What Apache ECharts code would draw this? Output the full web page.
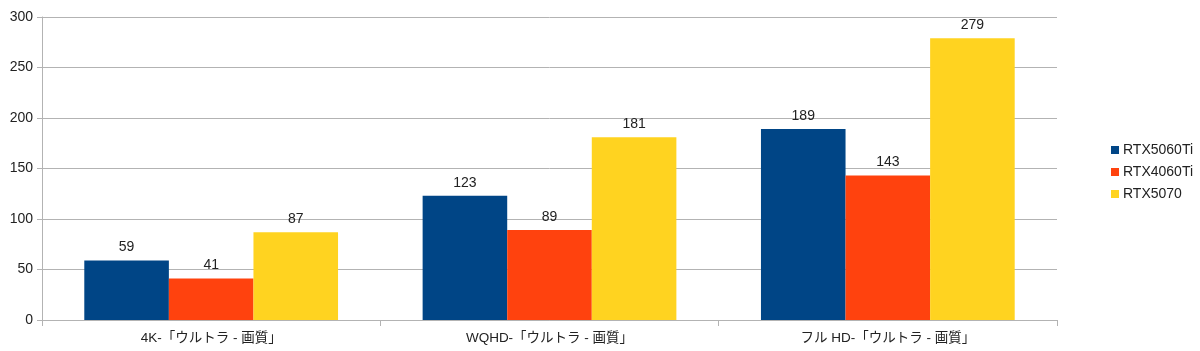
<!DOCTYPE html>
<html><head><meta charset="utf-8">
<script src="https://cdn.jsdelivr.net/npm/echarts@6/dist/echarts.min.js"></script>
<style>html,body{margin:0;padding:0;background:#fff}#c{width:1200px;height:351px}</style>
</head><body><div id="c"></div>
<script>
const categories = ['4K-「ウルトラ - 画質」', 'WQHD-「ウルトラ - 画質」', 'フル HD-「ウルトラ - 画質」'];
const seriesNames = ['RTX5060Ti', 'RTX4060Ti', 'RTX5070'];
const rtx5060ti = [59, 123, 189];
const rtx4060ti = [41, 89, 143];
const rtx5070 = [87, 181, 279];
const colors = ['#004586', '#ff420e', '#ffd320'];
const font = '"Liberation Sans", Arial, "Noto Sans CJK JP", sans-serif';
const values = [rtx5060ti, rtx4060ti, rtx5070];
const chart = echarts.init(document.getElementById('c'));
chart.setOption({
  animation: false,
  textStyle: { fontFamily: font },
  grid: { left: 42, right: 143, top: 17, bottom: 31, containLabel: false },
  legend: {
    orient: 'vertical', left: 1106, top: 138, itemWidth: 8, itemHeight: 8, itemGap: 8,
    icon: 'rect',
    textStyle: { fontFamily: font, fontSize: 14, color: '#222', padding: [0,0,0,-1] },
    data: seriesNames
  },
  xAxis: {
    type: 'category', data: categories,
    axisLine: { lineStyle: { color: '#b3b3b3' } },
    axisTick: { show: true, length: 6, lineStyle: { color: '#b3b3b3' } },
    axisLabel: { fontFamily: font, fontSize: 13.5, color: '#222', margin: 12 }
  },
  yAxis: {
    type: 'value', min: 0, max: 300, interval: 50,
    axisLine: { show: true, lineStyle: { color: '#b3b3b3' } },
    axisTick: { show: true, length: 5, lineStyle: { color: '#b3b3b3' } },
    splitLine: { lineStyle: { color: '#b3b3b3' } },
    axisLabel: { fontFamily: font, fontSize: 14, color: '#222', margin: 9 }
  },
  series: seriesNames.map((n, i) => ({
    name: n, type: 'bar', data: values[i], barGap: '0%', barCategoryGap: '25%',
    itemStyle: { color: colors[i] },
    label: { show: true, position: 'top', distance: 6, fontFamily: font, fontSize: 14, color: '#222' }
  }))
});
</script></body></html>
